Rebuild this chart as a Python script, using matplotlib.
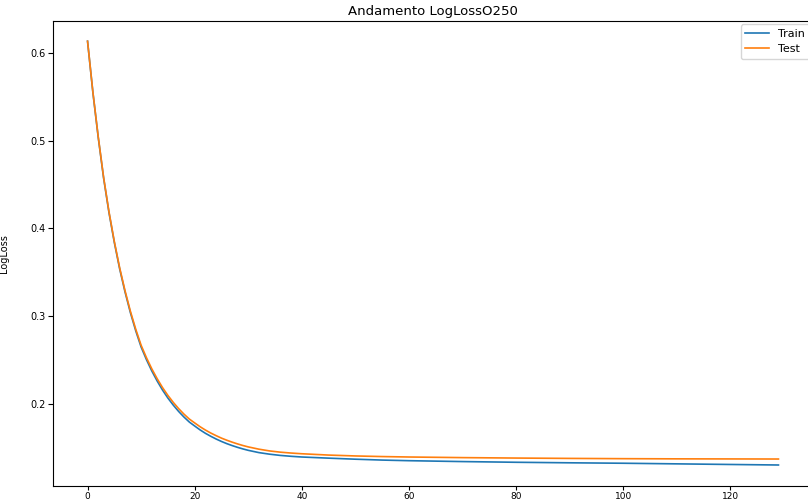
import matplotlib
matplotlib.use("Agg")
import matplotlib.pyplot as plt

epochs = [0, 1, 2, 3, 4, 5, 6, 7, 8, 9, 10, 11, 12, 13, 14, 15, 16, 17, 18, 19, 20,
          21, 22, 23, 24, 25, 26, 27, 28, 29, 30, 32, 34, 36, 38, 40, 45, 50, 55, 60,
          70, 80, 90, 100, 110, 120, 129]
train = [0.613, 0.5545, 0.5033, 0.4572, 0.418, 0.384, 0.3538, 0.3276, 0.3041, 0.2834,
         0.2650, 0.2506, 0.2377, 0.2263, 0.2160, 0.2069, 0.1989, 0.1917, 0.1853, 0.1796,
         0.1751, 0.1707, 0.1668, 0.1634, 0.1603, 0.1575, 0.1550, 0.1528, 0.1508, 0.1490,
         0.1474, 0.1448, 0.1430, 0.1416, 0.1406, 0.1398, 0.1385, 0.1373, 0.1363, 0.1356,
         0.1346, 0.1338, 0.1332, 0.1327, 0.1320, 0.1313, 0.1307]
test = [0.613, 0.555, 0.504, 0.458, 0.419, 0.385, 0.355, 0.329, 0.3057, 0.2852,
        0.2670, 0.2528, 0.2401, 0.2289, 0.2188, 0.2099, 0.2020, 0.1949, 0.1886, 0.1830,
        0.1786, 0.1743, 0.1705, 0.1671, 0.1641, 0.1613, 0.1589, 0.1567, 0.1547, 0.1529,
        0.1513, 0.1487, 0.1467, 0.1453, 0.1443, 0.1435, 0.1420, 0.1410, 0.1403, 0.1398,
        0.1391, 0.1386, 0.1382, 0.1379, 0.1377, 0.1376, 0.1375]

title = "Andamento LogLossO250"
ylabel = "LogLoss"
labels = ["Train", "Test"]

fig = plt.figure(figsize=(8.08, 4.99), dpi=100)
ax = fig.add_axes([53/808, 1 - 486/499, (813 - 53)/808, (486 - 21)/499])
ax.plot(epochs, train, color="#1f77b4", lw=1.2, label=labels[0])
ax.plot(epochs, test, color="#ff7f0e", lw=1.2, label=labels[1])
ax.set_xlim(-6.45, 135.45)
ax.set_ylim(0.1068, 0.636)
ax.set_xticks([0, 20, 40, 60, 80, 100, 120])
ax.set_yticks([0.2, 0.3, 0.4, 0.5, 0.6])
ax.tick_params(labelsize=7, length=3.5, width=0.8, pad=1.5)
ax.tick_params(axis="x", labelsize=6.5, length=3, pad=1)
ax.set_title(title, fontsize=9.5, pad=4)
ax.set_ylabel(ylabel, fontsize=7)
ax.yaxis.set_label_coords(-44/760, 0.5)
ax.legend(loc="upper right", fontsize=8, borderaxespad=0.3, handlelength=2.2)
fig.savefig("out.png", dpi=100)
